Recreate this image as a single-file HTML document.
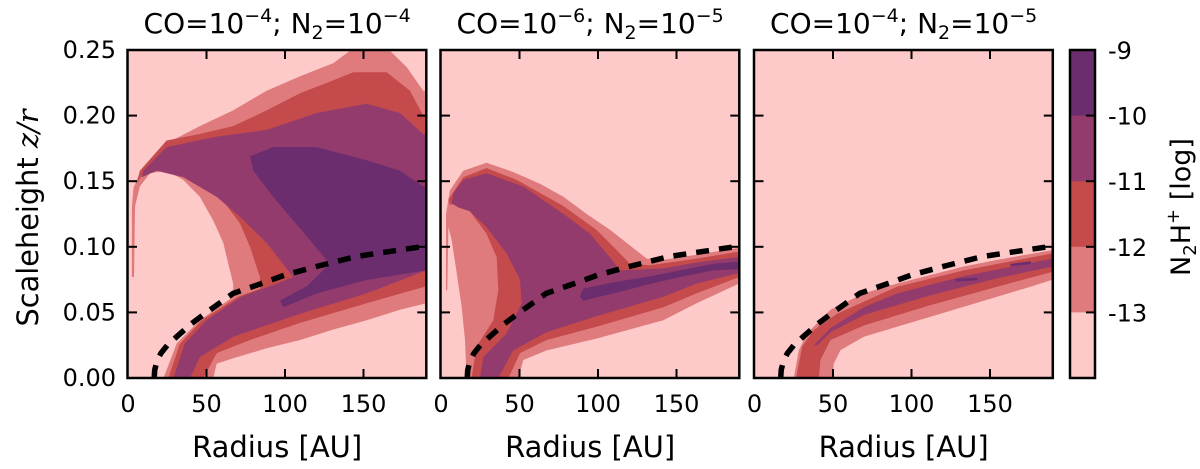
<!DOCTYPE html>
<html><head><meta charset="utf-8">
<style>
html,body{margin:0;padding:0;background:#fff;}
svg{display:block;font-family:"DejaVu Sans","Liberation Sans",sans-serif;}
</style></head>
<body>
<svg id="fig" width="1200" height="469" viewBox="0 0 1200 469" xmlns="http://www.w3.org/2000/svg"></svg>
<script>
// ---- data ----
const xTicks = [0, 50, 100, 150];
const yTicks = [0.00, 0.05, 0.10, 0.15, 0.20, 0.25];
const yTickLabels = ["0.00","0.05","0.10","0.15","0.20","0.25"];
const cbLevels = [-9, -10, -11, -12, -13];
const cbLabels = ["-9","-10","-11","-12","-13"];
const levelColors = ["#fdc9c9","#df7b7c","#c44a4b","#933b6d","#6b2d6e"];
const panelCO = ["\u22124","\u22126","\u22124"];
const panelN2 = ["\u22124","\u22125","\u22125"];
// CO snowline (dashed) r [AU], z/r
const snowR = [16.7,17,18.5,21,25,31,40,50,67,85,100,120,145,170,190];
const snowZ = [0,0.006,0.013,0.019,0.025,0.0315,0.041,0.05,0.0645,0.072,0.0785,0.085,0.0925,0.097,0.1005];

// panel 1 contour polygons [r, z]
const p1L1 = [[22.6,0],[31,.0264],[45.8,.044],[67,.062],[67,.072],[63.9,.087],[60.7,.103],[54.3,.12],[45.8,.138],[35.2,.151],[24.6,.158],[14,.156],[7.6,.146],[4.5,.131],[3.8,.077],[2.5,.077],[2.5,.13],[3.5,.145],[7.6,.156],[14,.166],[24.6,.179],[45.8,.192],[67,.204],[88.3,.219],[109.6,.23],[130.8,.24],[141.4,.2495],[166.9,.2495],[177.5,.237],[188,.219],[190,.219],[190,.057],[173.2,.052],[152,.044],[130.8,.037],[109.6,.029],[88.3,.0226],[67,.015],[56.5,.011],[54.3,0]];
const p1L2 = [[25.7,0],[33,.026],[47,.044],[70,.062],[84,.068],[84,.077],[77.7,.1],[71.3,.118],[58.6,.138],[45.8,.153],[35.2,.162],[20.4,.165],[9.7,.156],[5.5,.148],[7.6,.158],[24.6,.181],[45.8,.186],[67,.192],[88.3,.204],[109.6,.217],[130.8,.227],[143.5,.233],[164.8,.233],[179.6,.219],[188,.2],[190,.2],[190,.07],[152,.057],[109.6,.042],[77.7,.029],[56.5,.019],[48,0]];
const p1L3 = [[28.9,0],[36,.026],[50,.044],[72,.062],[95,.072],[105.3,.077],[88.3,.103],[71.3,.123],[56.5,.138],[35.2,.153],[18.2,.158],[8.7,.153],[9.7,.158],[24.6,.176],[56.5,.184],[88.3,.189],[120.2,.202],[152,.209],[173.2,.202],[188,.186],[190,.186],[190,.082],[152,.0645],[109.6,.049],[67,.0315],[45.8,.016],[39.5,0]];
const p1L4 = [[77.7,.169],[92.5,.176],[120.2,.176],[152,.166],[173.2,.158],[188,.146],[190,.146],[190,.082],[152,.0747],[120.2,.0645],[99,.054],[96.8,.059],[113.8,.07],[128.5,.087],[113.8,.108],[92.5,.138],[79.8,.158]];
// panel 2
const p2L1 = [[16.3,0],[15.3,.029],[13.2,.054],[10,.08],[6.8,.105],[4.7,.115],[4,.067],[3.2,.067],[3.2,.125],[5.7,.143],[14.2,.158],[29,.164],[46,.157],[63,.148],[78,.138],[92.8,.125],[107.6,.113],[120.4,.101],[131,.091],[141.6,.09],[162.8,.094],[188,.099],[190,.099],[190,.072],[162.8,.057],[141.6,.044],[99,.03],[67.3,.021],[52.4,.0137],[49.3,0]];
const p2L2 = [[19.5,0],[22.7,.024],[33.3,.044],[36.5,.067],[35.5,.092],[29,.11],[18.5,.127],[10,.133],[5.7,.132],[4.7,.136],[14.2,.153],[29,.16],[48.2,.151],[78,.131],[99,.113],[111.9,.0975],[120.4,.087],[133.1,.086],[162.8,.091],[188,.096],[190,.096],[190,.077],[162.8,.0645],[141.6,.054],[99,.039],[67.3,.029],[50.3,.019],[42.9,0]];
const p2L3 = [[24.8,0],[27,.016],[41.8,.034],[51.4,.057],[50.3,.075],[41.8,.095],[29,.115],[18.5,.127],[11,.13],[6.8,.133],[7.9,.141],[14.2,.151],[29,.156],[52.4,.146],[78,.125],[94.9,.11],[107.6,.092],[114,.082],[141.6,.0835],[162.8,.088],[188,.092],[190,.092],[190,.08],[162.8,.072],[141.6,.062],[99,.047],[67.3,.035],[46,.021],[36.5,0]];
const p2L4 = [[88.5,.062],[90.6,.068],[109.8,.073],[131,.077],[152.2,.082],[173.4,.087],[188,.0885],[190,.0885],[190,.083],[173.4,.082],[152.2,.077],[131,.071],[109.8,.0645],[90.6,.059]];
// panel 3
const p3L1 = [[25,0],[28.2,.021],[33.5,.034],[48.4,.052],[69.6,.0645],[90.9,.072],[112.1,.0785],[133.3,.085],[154.5,.09],[189.6,.0975],[190,.0975],[190,.075],[175.8,.0696],[154.5,.062],[112.1,.0467],[69.6,.0315],[54.8,.0213],[50.5,.011],[49.5,0]];
const p3L2 = [[26.5,0],[30.4,.024],[37.8,.0366],[52.6,.049],[90.9,.0696],[133.3,.082],[189.6,.095],[190,.095],[190,.081],[154.5,.0696],[112.1,.0556],[69.6,.04],[48.4,.029],[42,.0137],[41,0]];
const p3L3 = [[37.8,.025],[48.4,.038],[69.6,.054],[90.9,.0645],[133.3,.0777],[189.6,.091],[190,.091],[190,.085],[154.5,.076],[112.1,.063],[69.6,.048],[48.4,.035],[39.9,.025]];
const p3L4a = [[128,.0755],[142,.0765],[142,.0745],[128,.0735]];
const p3L4b = [[163,.087],[176,.089],[176,.087],[163,.085]];

const panelPolys = [
  [[p1L1,1],[p1L2,2],[p1L3,3],[p1L4,4]],
  [[p2L1,1],[p2L2,2],[p2L3,3],[p2L4,4]],
  [[p3L1,1],[p3L2,2],[p3L3,3],[p3L4a,4],[p3L4b,4]]
];

// ---- layout ----
const NS = "http://www.w3.org/2000/svg";
const svg = document.getElementById("fig");
const panelX0 = [128, 441, 754.5];
const pxPerAU = 1.57, rMax = 190;
const yBottom = 378, yTop = 50, zMax = 0.25;
function mk(tag, attrs, parent){const e=document.createElementNS(NS,tag);for(const k in attrs)e.setAttribute(k,attrs[k]);(parent||svg).appendChild(e);return e;}
function yScale(z){return yBottom - (z/zMax)*(yBottom-yTop);}

panelPolys.forEach((polys, pi)=>{
  const x0 = panelX0[pi];
  const xScale = r => x0 + r*pxPerAU;
  const xR = xScale(rMax);
  const g = mk("g",{});
  
  
  const cp = mk("clipPath",{id:"clip"+pi},g);
  mk("rect",{x:x0,y:yTop,width:xR-x0,height:yBottom-yTop},cp);
  const bg = mk("rect",{x:x0,y:yTop,width:xR-x0,height:yBottom-yTop,fill:levelColors[0]},g);
  
  
  const cg = mk("g",{"clip-path":"url(#clip"+pi+")"},g);
  polys.forEach(([pts,lvl])=>{
    const d = pts.map((p,i)=>(i?"L":"M")+xScale(p[0]).toFixed(1)+","+yScale(p[1]).toFixed(1)).join("")+"Z";
    const path = mk("path",{d:d,fill:levelColors[lvl]},cg);
    
    
  });
  const sd = snowR.map((r,i)=>(i?"L":"M")+xScale(r).toFixed(1)+","+yScale(snowZ[i]).toFixed(1)).join("");
  const sl = mk("path",{d:sd,fill:"none",stroke:"#000","stroke-width":5.5,"stroke-dasharray":"13,10"},cg);
  
  
  xTicks.forEach(t=>{
    const x = xScale(t);
    if(t>0){
      mk("line",{x1:x,y1:yBottom,x2:x,y2:yBottom-9,stroke:"#000","stroke-width":2},g);
      mk("line",{x1:x,y1:yTop,x2:x,y2:yTop+9,stroke:"#000","stroke-width":2},g);
    }
    const tl = mk("text",{x:x,y:412,"font-size":24,"text-anchor":"middle",fill:"#000"},g);
    tl.textContent = String(t);
    
    
  });
  yTicks.forEach((t,i)=>{
    const y = yScale(t);
    if(i>0 && i<yTicks.length-1){
      mk("line",{x1:x0,y1:y,x2:x0+9,y2:y,stroke:"#000","stroke-width":2},g);
      mk("line",{x1:xR,y1:y,x2:xR-9,y2:y,stroke:"#000","stroke-width":2},g);
    }
    if(pi===0){
      const yl = mk("text",{x:116,y:y+8,"font-size":24,"text-anchor":"end",fill:"#000"},g);
      yl.textContent = yTickLabels[i];
      
      
    }
  });
  const fr = mk("rect",{x:x0-0.5,y:yTop,width:xR-x0+0.5,height:yBottom-yTop,fill:"none",stroke:"#000","stroke-width":2.5},g);
  
  
  const title = mk("text",{x:(x0+xR)/2,y:33,"font-size":28,"text-anchor":"middle",fill:"#000"},g);
  
  
  title.innerHTML = 'CO=10<tspan font-size="19" dy="-11">'+panelCO[pi]+'</tspan><tspan dy="11">; N</tspan><tspan font-size="19" dy="6">2</tspan><tspan dy="-6">=10</tspan><tspan font-size="19" dy="-11">'+panelN2[pi]+'</tspan>';
  const xl = mk("text",{x:(x0+xR)/2,y:457,"font-size":29,"text-anchor":"middle",fill:"#000"},g);
  xl.textContent = "Radius [AU]";
  
  
});

const yt = mk("text",{x:0,y:0,"font-size":29,"text-anchor":"middle",transform:"translate(38,218) rotate(-90)",fill:"#000",textLength:217,lengthAdjust:"spacingAndGlyphs"});


yt.innerHTML = 'Scaleheight <tspan font-family="DejaVu Serif, serif" font-style="italic">z/r</tspan>';

const cbX = 1070, cbW = 25;
const cbScale = v => yTop + (-9 - v)/5 * (yBottom-yTop);
const cg2 = mk("g",{});


const bands = [[-9,-10,4],[-10,-11,3],[-11,-12,2],[-12,-13,1],[-13,-14,0]];
bands.forEach(([a,b,c])=>{
  const r = mk("rect",{x:cbX,y:cbScale(a),width:cbW,height:cbScale(b)-cbScale(a)+0.5,fill:levelColors[c]},cg2);
  
  
});
cbLevels.forEach((v,i)=>{
  const y = cbScale(v);
  if(i>0){
    mk("line",{x1:cbX+cbW,y1:y,x2:cbX+cbW-9,y2:y,stroke:"#000","stroke-width":2},cg2);
  }
  const l = mk("text",{x:1108,y:y+9,"font-size":24,fill:"#000"},cg2);
  l.textContent = cbLabels[i];
  
  
});
mk("rect",{x:cbX,y:yTop,width:cbW,height:yBottom-yTop,fill:"none",stroke:"#000","stroke-width":2.5},cg2);
const cbt = mk("text",{x:0,y:0,"font-size":27,"text-anchor":"middle",transform:"translate(1190,207) rotate(-90)",fill:"#000"});


cbt.innerHTML = 'N<tspan font-size="18" dy="6">2</tspan><tspan dy="-6">H</tspan><tspan font-size="18" dy="-11">+</tspan><tspan dy="11"> [log]</tspan>';
</script>
</body></html>
